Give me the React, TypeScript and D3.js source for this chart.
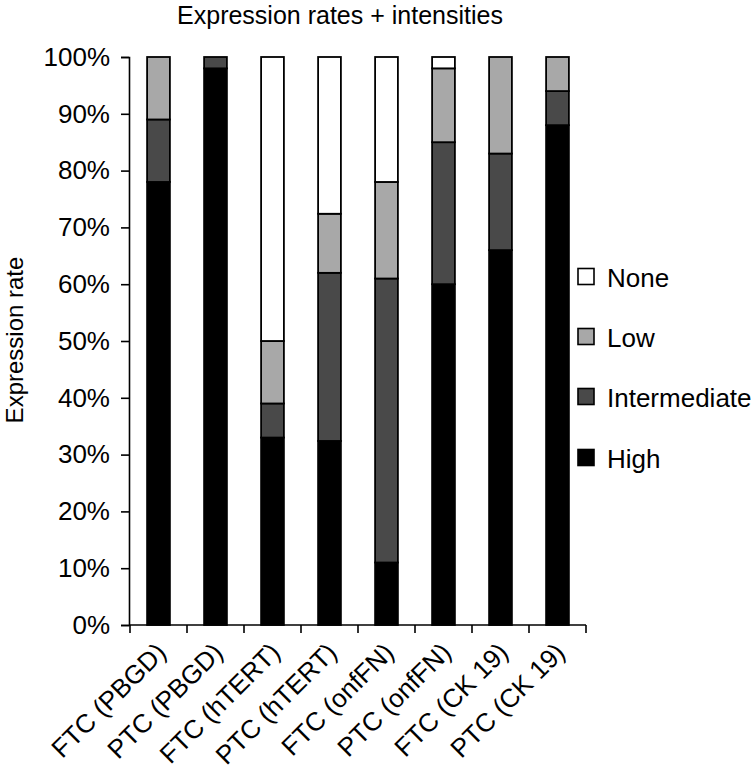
import { useEffect, useRef } from 'react';
import * as d3 from 'd3';

const categories = [
  'FTC (PBGD)',
  'PTC (PBGD)',
  'FTC (hTERT)',
  'PTC (hTERT)',
  'FTC (onfFN)',
  'PTC (onfFN)',
  'FTC (CK 19)',
  'PTC (CK 19)',
];

// segment sizes in percent, stacked bottom to top
const high = [78, 98, 33, 32.4, 11, 60, 66, 88];
const intermediate = [11, 2, 6, 29.6, 50, 25, 17, 6];
const low = [11, 0, 11, 10.4, 17, 13, 17, 6];
const none = [0, 0, 50, 27.6, 22, 2, 0, 0];

const seriesNames = ['High', 'Intermediate', 'Low', 'None'];
const seriesColors = ['#000000', '#494949', '#a8a8a8', '#ffffff'];
const yTicks = [0, 10, 20, 30, 40, 50, 60, 70, 80, 90, 100];

const FONT = '"Liberation Sans", Arial, sans-serif';

function App() {
  const ref = useRef<SVGSVGElement>(null);

  useEffect(() => {
    const svg = d3.select(ref.current);
    svg.selectAll('*').remove();

    const left = 130;
    const right = 586;
    const top = 57;
    const bottom = 625;

    const x = d3
      .scaleBand()
      .domain(categories)
      .range([left, right])
      .paddingInner(0.6)
      .paddingOuter(0.3);

    const y = d3.scaleLinear().domain([0, 100]).range([bottom, top]);

    const rows = categories.map((c, i) => ({
      cat: c,
      High: high[i],
      Intermediate: intermediate[i],
      Low: low[i],
      None: none[i],
    }));
    const stacked = d3.stack<any>().keys(seriesNames)(rows);

    // title
    svg
      .append('text')
      .attr('x', 340)
      .attr('y', 24)
      .attr('text-anchor', 'middle')
      .attr('font-size', 25)
      .text('Expression rates + intensities');

    // y axis
    const yAxis = svg
      .append('g')
      .attr('transform', `translate(${left - 1},0)`)
      .call(
        d3
          .axisLeft(y)
          .tickValues(yTicks)
          .tickSize(8)
          .tickPadding(11)
          .tickFormat((d) => `${d}%`)
      );
    yAxis.select('.domain').attr('stroke', '#000').attr('stroke-width', 1.6);
    yAxis.selectAll('.tick line').attr('stroke', '#000').attr('stroke-width', 1.6);
    yAxis
      .selectAll('.tick text')
      .attr('font-size', 26)
      .attr('font-family', FONT)
      .attr('fill', '#000');

    svg
      .append('text')
      .attr('transform', `translate(23,340) rotate(-90)`)
      .attr('text-anchor', 'middle')
      .attr('font-size', 24)
      .text('Expression rate');

    // x axis line + ticks at band boundaries
    svg
      .append('line')
      .attr('x1', left - 1)
      .attr('x2', right)
      .attr('y1', bottom)
      .attr('y2', bottom)
      .attr('stroke', '#000')
      .attr('stroke-width', 1.6);

    const gap = (x.step() - x.bandwidth()) / 2;
    const bounds = categories.map((c) => (x(c) as number) - gap).concat([right]);
    svg
      .append('g')
      .selectAll('line')
      .data(bounds)
      .enter()
      .append('line')
      .attr('x1', (d) => d)
      .attr('x2', (d) => d)
      .attr('y1', bottom)
      .attr('y2', bottom + 8)
      .attr('stroke', '#000')
      .attr('stroke-width', 1.6);

    svg
      .append('g')
      .selectAll('text')
      .data(categories)
      .enter()
      .append('text')
      .attr(
        'transform',
        (d) => `translate(${(x(d) as number) + x.bandwidth() / 2 + 9},654) rotate(-45)`
      )
      .attr('text-anchor', 'end')
      .attr('font-size', 26)
      .text((d) => d);

    // bars
    svg
      .append('g')
      .selectAll('g')
      .data(stacked)
      .enter()
      .append('g')
      .attr('fill', (d, i) => seriesColors[i])
      .selectAll('rect')
      .data((d) => d.filter((p) => p[1] - p[0] > 0))
      .enter()
      .append('rect')
      .attr('x', (d) => x(d.data.cat) as number)
      .attr('y', (d) => y(d[1]))
      .attr('width', x.bandwidth())
      .attr('height', (d) => y(d[0]) - y(d[1]))
      .attr('stroke', '#000')
      .attr('stroke-width', 1.8);

    // legend
    const legendY = [458, 397, 337, 277];
    const legend = svg
      .append('g')
      .selectAll('g')
      .data(seriesNames)
      .enter()
      .append('g')
      .attr('transform', (d, i) => `translate(578,${legendY[i]})`);
    legend
      .append('rect')
      .attr('x', 0)
      .attr('y', -8.5)
      .attr('width', 16)
      .attr('height', 16)
      .attr('fill', (d, i) => seriesColors[i])
      .attr('stroke', '#000')
      .attr('stroke-width', 1.6);
    legend
      .append('text')
      .attr('x', 29)
      .attr('y', 10)
      .attr('font-size', 26)
      .text((d) => d);
  }, []);

  return (
    <svg
      ref={ref}
      width={755}
      height={772}
      style={{ position: 'absolute', left: 0, top: 0, background: '#fff' }}
      fontFamily={FONT}
    />
  );
}

export default App;
